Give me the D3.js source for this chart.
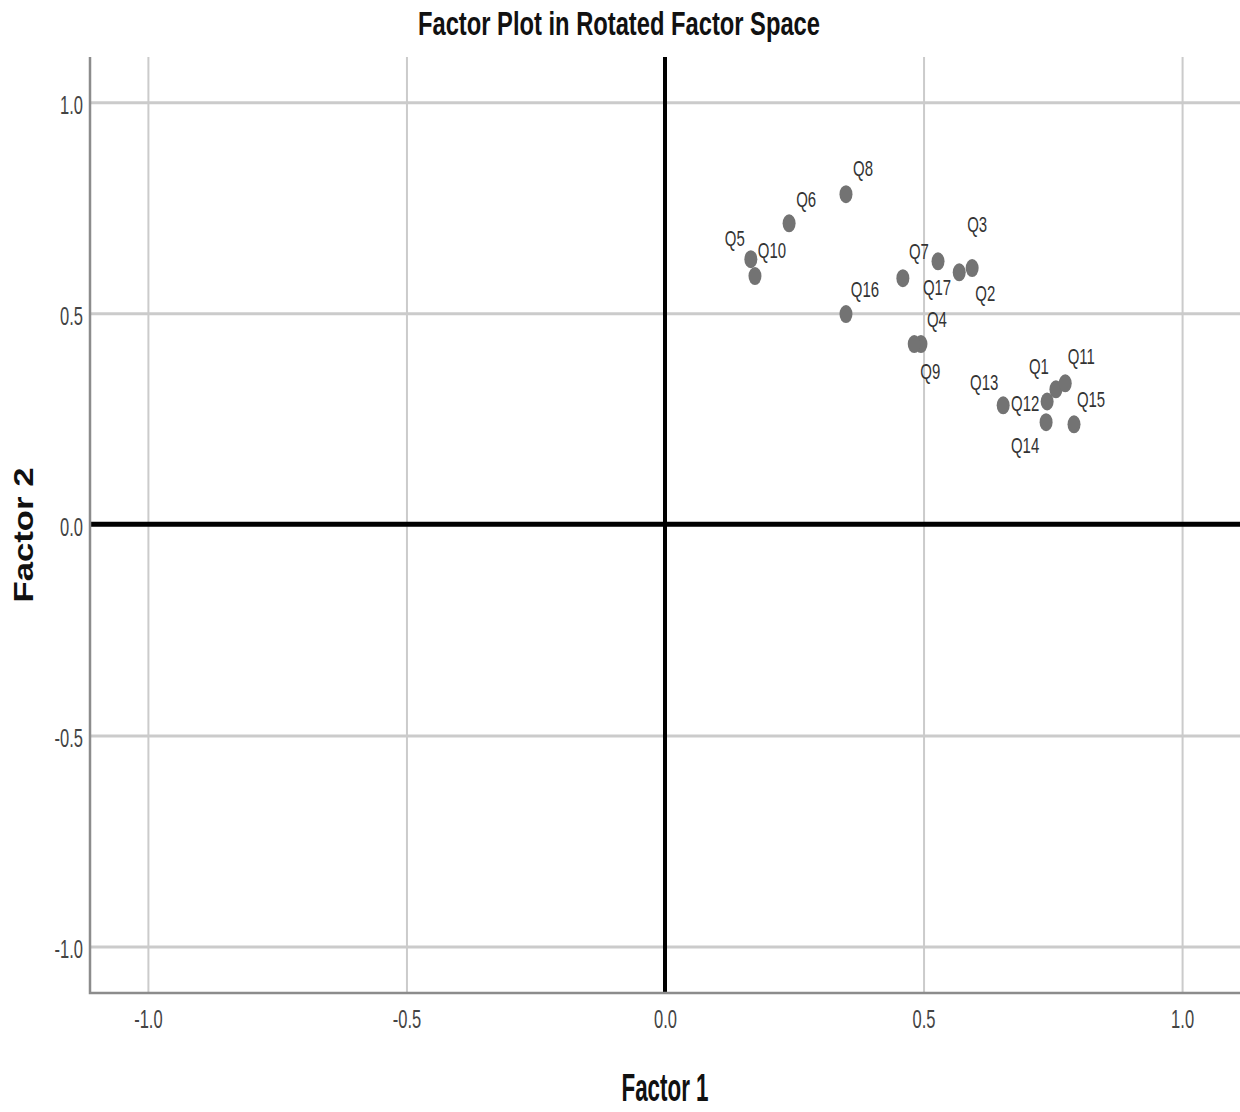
<!DOCTYPE html>
<html>
<head>
<meta charset="utf-8">
<script src="https://cdn.jsdelivr.net/npm/d3@7"></script>
<style>
  body { margin: 0; background: #fff; }
  svg { display: block; font-family: "Liberation Sans", Arial, sans-serif; }
</style>
</head>
<body>
<svg id="chart" width="1240" height="1112"></svg>
<script>
// factor loadings
var items = ["Q1","Q2","Q3","Q4","Q5","Q6","Q7","Q8","Q9","Q10","Q11","Q12","Q13","Q14","Q15","Q16","Q17"];
var factor1 = [0.756, 0.569, 0.594, 0.495, 0.166, 0.240, 0.460, 0.350, 0.482, 0.174, 0.774, 0.739, 0.654, 0.737, 0.791, 0.350, 0.528];
var factor2 = [0.320, 0.597, 0.607, 0.427, 0.628, 0.713, 0.583, 0.782, 0.427, 0.588, 0.334, 0.291, 0.282, 0.242, 0.237, 0.498, 0.623];
var xTicks = [-1.0, -0.5, 0.0, 0.5, 1.0];
var yTicks = [-1.0, -0.5, 0.0, 0.5, 1.0];

// where each label sits relative to its point (px)
var labelNudge = {
  Q1: [-17, -23], Q2: [26, 21], Q3: [5, -44], Q4: [16, -25], Q5: [-16, -21],
  Q6: [17, -24], Q7: [16, -27], Q8: [17, -26], Q9: [16, 27], Q10: [17, -26],
  Q11: [16, -27], Q12: [-22, 2], Q13: [-19, -23], Q14: [-21, 23], Q15: [17, -25],
  Q16: [19, -25], Q17: [-1, 26]
};

var pts = items.map(function (d, i) { return {name: d, x: factor1[i], y: factor2[i]}; });

var plotL = 90, plotR = 1240, plotT = 57, plotB = 993;
var x = d3.scaleLinear().domain([-1.112, 1.112]).range([plotL, plotR]);
var y = d3.scaleLinear().domain([-1.11, 1.107]).range([plotB, plotT]);

var svg = d3.select("#chart");
var fmt = function (d) { return d.toFixed(1); };

// y grid + labels
var yAxis = svg.append("g")
  .attr("transform", "translate(" + plotL + ",0)")
  .call(d3.axisLeft(y).tickValues(yTicks).tickFormat(fmt).tickSize(-(plotR - plotL)).tickPadding(10.6));
yAxis.select(".domain").remove();
yAxis.selectAll("line").attr("stroke", "#cbcbcb").attr("stroke-width", 3);
yAxis.selectAll("text")
  .attr("font-size", 25).attr("fill", "#444").attr("dy", "0.45em")
  .attr("transform", "scale(0.66,1)");

// x grid + labels
var xAxis = svg.append("g")
  .attr("transform", "translate(0," + plotB + ")")
  .call(d3.axisBottom(x).tickValues(xTicks).tickFormat(fmt).tickSize(-(plotB - plotT)).tickPadding(17));
xAxis.select(".domain").remove();
xAxis.selectAll("line").attr("stroke", "#cbcbcb").attr("stroke-width", 2);
xAxis.selectAll("text")
  .attr("font-size", 25).attr("fill", "#444")
  .attr("transform", "scale(0.66,1)");

// zero reference lines
svg.append("line")
  .attr("x1", x(0)).attr("x2", x(0)).attr("y1", plotT).attr("y2", plotB)
  .attr("stroke", "#000").attr("stroke-width", 4);
svg.append("line")
  .attr("x1", plotL).attr("x2", plotR).attr("y1", y(0)).attr("y2", y(0))
  .attr("stroke", "#000").attr("stroke-width", 5);

// frame (left + bottom)
svg.append("path")
  .attr("d", "M" + plotL + "," + plotT + "V" + plotB + "H" + plotR)
  .attr("fill", "none").attr("stroke", "#8c8c8c").attr("stroke-width", 2.5);

// points
svg.selectAll("ellipse.pt").data(pts).enter().append("ellipse")
  .attr("class", "pt")
  .attr("cx", function (d) { return x(d.x); })
  .attr("cy", function (d) { return y(d.y); })
  .attr("rx", 6.5).attr("ry", 9)
  .attr("fill", "#737373");

svg.selectAll("text.lbl").data(pts).enter().append("text")
  .attr("class", "lbl")
  .attr("transform", function (d) {
    var n = labelNudge[d.name];
    return "translate(" + (x(d.x) + n[0]) + "," + (y(d.y) + n[1]) + ") scale(0.68,1)";
  })
  .attr("text-anchor", "middle")
  .attr("dy", "0.36em")
  .attr("font-size", 22)
  .attr("fill", "#333")
  .text(function (d) { return d.name; });

// titles
svg.append("text")
  .attr("x", 619).attr("y", 35)
  .attr("text-anchor", "middle")
  .attr("font-size", 33).attr("font-weight", "bold").attr("fill", "#111")
  .attr("textLength", 402).attr("lengthAdjust", "spacingAndGlyphs")
  .text("Factor Plot in Rotated Factor Space");

svg.append("text")
  .attr("x", 665).attr("y", 1101)
  .attr("text-anchor", "middle")
  .attr("font-size", 38).attr("font-weight", "bold").attr("fill", "#111")
  .attr("textLength", 87).attr("lengthAdjust", "spacingAndGlyphs")
  .text("Factor 1");

svg.append("text")
  .attr("transform", "translate(33,535) rotate(-90)")
  .attr("text-anchor", "middle")
  .attr("font-size", 28).attr("font-weight", "bold").attr("fill", "#111")
  .attr("textLength", 135).attr("lengthAdjust", "spacingAndGlyphs")
  .text("Factor 2");
</script>
</body>
</html>
